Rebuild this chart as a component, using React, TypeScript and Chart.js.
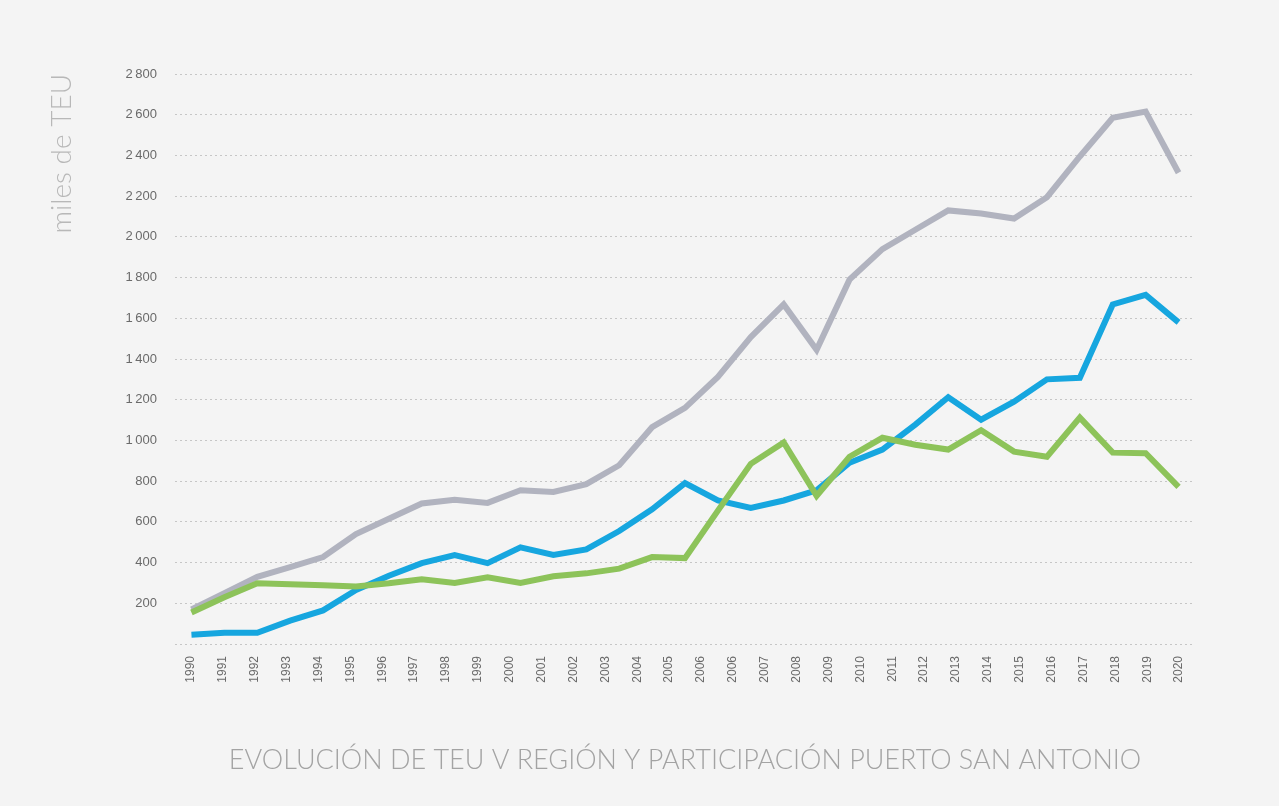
import React, { useEffect, useRef } from 'react';
import { Chart, registerables } from 'chart.js';

Chart.register(...registerables);

// Axis labels as printed on the reference (note the repeated 2006)
const xTickLabels = [
  '1990', '1991', '1992', '1993', '1994', '1995', '1996', '1997', '1998', '1999',
  '2000', '2001', '2002', '2003', '2004', '2005', '2006', '2006', '2007', '2008',
  '2009', '2010', '2011', '2012', '2013', '2014', '2015', '2016', '2017', '2018',
  '2019', '2020',
];

// Data years
const years = [
  '1990', '1991', '1992', '1993', '1994', '1995', '1996', '1997', '1998', '1999',
  '2000', '2001', '2002', '2003', '2004', '2005', '2006', '2007', '2008', '2009',
  '2010', '2011', '2012', '2013', '2014', '2015', '2016', '2017', '2018', '2019',
  '2020',
];

// miles de TEU
const totalRegion = [
  170, 250, 330, 378, 427, 540, 615, 690, 708, 693,
  755, 747, 785, 878, 1065, 1160, 1312, 1508, 1668, 1445,
  1790, 1940, 2035, 2130, 2115, 2090, 2195, 2395, 2585, 2615,
  2315,
];

const sanAntonio = [
  45, 55, 55, 115, 165, 265, 335, 397, 437, 397,
  475, 437, 465, 555, 662, 790, 705, 668, 705, 755,
  890, 955, 1078, 1212, 1102, 1190, 1300, 1308, 1668, 1715,
  1580,
];

const valparaiso = [
  155, 230, 298, 293, 288, 283, 298, 318, 300, 328,
  300, 333, 347, 370, 427, 422, 655, 885, 990, 728,
  920, 1013, 979, 955, 1050, 945, 920, 1112, 940, 937,
  772,
];

const yMax = 2800;
const yStep = 200;

const chartTitle = 'EVOLUCIÓN DE TEU V REGIÓN Y PARTICIPACIÓN PUERTO SAN ANTONIO';
const yTitle = 'miles de TEU';

const W = 1279;
const H = 806;

export default function App() {
  const ref = useRef<HTMLCanvasElement | null>(null);

  useEffect(() => {
    document.body.style.margin = '0';
    document.body.style.background = '#f4f4f4';
    const canvas = ref.current;
    if (!canvas) return;
    const fontFamily = 'Lato, "Open Sans", sans-serif';
    const tickFamily = '"Liberation Sans", Arial, sans-serif';

    const chart = new Chart(canvas, {
      type: 'line',
      data: {
        labels: years,
        datasets: [
          {
            label: 'Valparaíso',
            data: valparaiso,
            borderColor: '#8dc35a',
            borderWidth: 6,
            pointRadius: 0,
            tension: 0,
            xAxisID: 'xd',
            order: 1,
          },
          {
            label: 'San Antonio',
            data: sanAntonio,
            borderColor: '#16a6df',
            borderWidth: 6,
            pointRadius: 0,
            tension: 0,
            xAxisID: 'xd',
            order: 2,
          },
          {
            label: 'V Región',
            data: totalRegion,
            borderColor: '#b1b3bf',
            borderWidth: 6,
            pointRadius: 0,
            tension: 0,
            xAxisID: 'xd',
            order: 3,
          },
        ],
      },
      options: {
        responsive: false,
        animation: false,
        layout: { padding: { top: 74, right: 84, left: 0, bottom: 0 } },
        plugins: {
          legend: { display: false },
          tooltip: { enabled: false },
        },
        scales: {
          xd: {
            type: 'category',
            labels: years,
            display: false,
            offset: true,
          },
          x: {
            type: 'category',
            labels: xTickLabels,
            offset: true,
            position: 'bottom',
            grid: { display: false },
            border: { display: false },
            ticks: {
              autoSkip: false,
              maxRotation: 90,
              minRotation: 90,
              padding: 4,
              color: '#6a6a6a',
              font: { family: tickFamily, size: 12 },
            },
            title: {
              display: true,
              text: chartTitle,
              color: '#a3a3a3',
              font: { family: fontFamily, size: 27, weight: '300' },
              padding: { top: 0, bottom: 30 },
            },
            afterFit: (scale: any) => {
              scale.height = H - 644;
            },
          },
          y: {
            type: 'linear',
            min: 0,
            max: yMax,
            grid: {
              color: '#c6c6c6',
              lineWidth: 1,
              drawTicks: false,
            },
            border: { display: false, dash: [2, 3] },
            ticks: {
              stepSize: yStep,
              padding: 18,
              color: '#6a6a6a',
              font: { family: tickFamily, size: 13 },
              callback: (v: any) => {
                const n = Number(v);
                if (n === 0) return '';
                const s = String(n);
                return s.length > 3 ? s.slice(0, s.length - 3) + '\u2009' + s.slice(-3) : s;
              },
            },
            title: {
              display: true,
              text: yTitle,
              align: 'end',
              color: '#b8b8b8',
              font: { family: fontFamily, size: 28, weight: '300' },
              padding: { top: 45, bottom: 0 },
            },
            afterFit: (scale: any) => {
              scale.width = 175;
            },
          },
        },
      },
    });
    return () => chart.destroy();
  }, []);

  return (
    <div style={{ width: W, height: H, background: '#f4f4f4' }}>
      <canvas ref={ref} width={W} height={H} style={{ display: 'block' }} />
    </div>
  );
}
